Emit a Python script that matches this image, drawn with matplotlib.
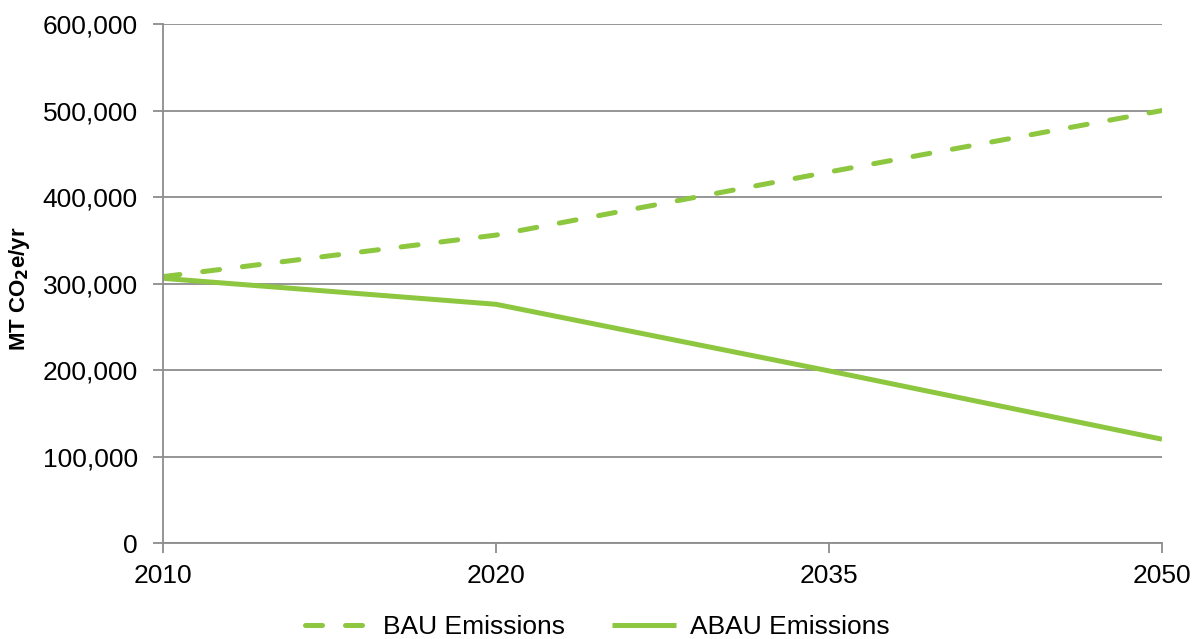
import matplotlib.pyplot as plt
from matplotlib.ticker import FuncFormatter

plt.rcParams['font.family'] = ['Liberation Sans', 'DejaVu Sans']

years = ['2010', '2020', '2035', '2050']
bau = [308000, 356000, 429000, 500000]
abau = [306000, 276000, 199000, 120000]

green = '#8DC63F'
grid_gray = '#8C8C8C'

fig = plt.figure(figsize=(11.95, 6.39), dpi=100)
ax = fig.add_axes([0.1364, 0.1502, 0.836, 0.8122])

x = list(range(len(years)))
ax.plot(x, bau, color=green, linewidth=3.6, linestyle=(0, (3.4, 4.6)),
        dash_capstyle='round', label='BAU Emissions')
ax.plot(x, abau, color=green, linewidth=3.6, solid_capstyle='butt',
        label='ABAU Emissions')

ax.set_xlim(0, 3)
ax.set_ylim(0, 600000)
ax.set_xticks(x)
ax.set_xticklabels(years)
ax.set_yticks(range(0, 600001, 100000))
ax.yaxis.set_major_formatter(FuncFormatter(lambda v, p: f'{int(v):,}'))

ax.grid(axis='y', color=grid_gray, linewidth=1.3)
ax.set_axisbelow(True)
for s in ['top', 'right']:
    ax.spines[s].set_visible(False)
for s in ['left', 'bottom']:
    ax.spines[s].set_color(grid_gray)
    ax.spines[s].set_linewidth(1.3)

ax.tick_params(axis='both', colors=grid_gray, labelcolor='black',
               labelsize=19, length=7, width=1.3)
ax.tick_params(axis='x', pad=8)
ax.tick_params(axis='y', pad=11)

ax.set_ylabel('MT CO$_\\mathbf{2}$e/yr', fontsize=16, fontweight='bold')
ax.yaxis.set_label_coords(-0.131, 0.49)

fig.legend(*ax.get_legend_handles_labels(), loc='center',
           bbox_to_anchor=(0.5, 0.018), ncol=2, frameon=False, fontsize=19,
           handlelength=2.4, columnspacing=1.8, handletextpad=0.55,
           borderpad=0)

fig.savefig('out.png', dpi=100)
